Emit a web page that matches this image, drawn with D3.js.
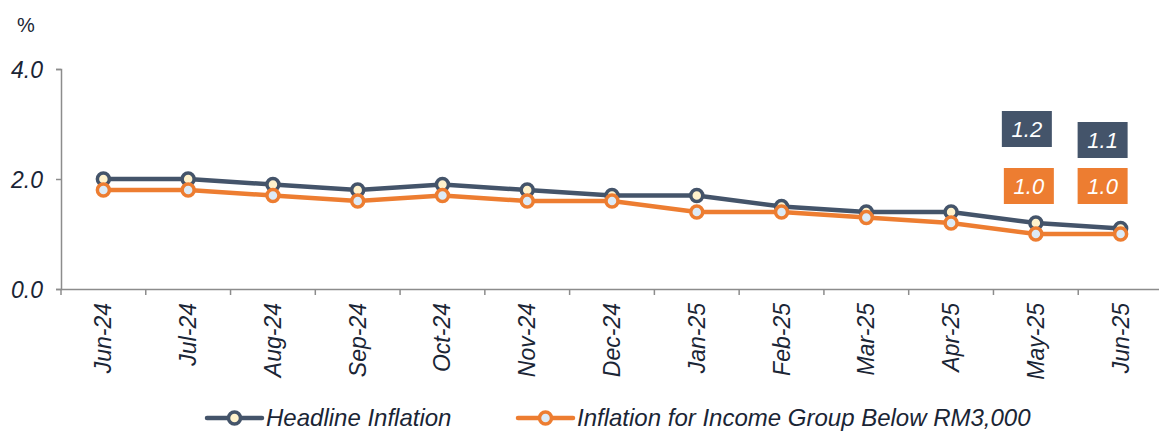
<!DOCTYPE html>
<html><head><meta charset="utf-8">
<script src="https://cdn.jsdelivr.net/npm/d3@7"></script>
<style>body{margin:0;background:#fff;}svg{display:block;font-family:"Liberation Sans",Arial,sans-serif;}</style>
</head><body><svg id="c" width="1159" height="432"></svg>
<script>
const categories = ["Jun-24","Jul-24","Aug-24","Sep-24","Oct-24","Nov-24","Dec-24","Jan-25","Feb-25","Mar-25","Apr-25","May-25","Jun-25"];
const headline = [2.0,2.0,1.9,1.8,1.9,1.8,1.7,1.7,1.5,1.4,1.4,1.2,1.1];
const lowIncome = [1.8,1.8,1.7,1.6,1.7,1.6,1.6,1.4,1.4,1.3,1.2,1.0,1.0];
const yTicks = [0,2,4];
const seriesNames = ["Headline Inflation","Inflation for Income Group Below RM3,000"];
const labelIdx = [11,12];

const svg = d3.select("#c");
const navy = "#44546A", orange = "#ED7D31", txtc = "#1a2535";
const x = d3.scaleBand().domain(categories).range([61,1163]);
const y = d3.scaleLinear().domain([0,4]).range([289,69]);

// y axis
const ya = svg.append("g").attr("transform","translate(61,0)")
  .call(d3.axisLeft(y).tickValues(yTicks).tickFormat(d3.format(".1f")).tickSize(5).tickPadding(13));
ya.select(".domain").attr("stroke","#8c8c8c").attr("stroke-width",1.5);
ya.selectAll(".tick line").attr("stroke","#8c8c8c").attr("stroke-width",1.5);
ya.selectAll("text").attr("font-size",23).attr("font-style","italic").attr("fill",txtc).attr("dy","0.36em");

// x axis
const xa = svg.append("g").attr("transform","translate(0,289)")
  .call(d3.axisBottom(x).tickSize(0).tickSizeOuter(0));
xa.select(".domain").attr("stroke","#8c8c8c").attr("stroke-width",1.5);
xa.selectAll(".tick text").remove();
xa.selectAll(".bt").data(categories.concat(["_end"])).enter().append("line")
  .attr("x1",(d,i)=>61+i*x.step()).attr("x2",(d,i)=>61+i*x.step())
  .attr("y1",0).attr("y2",6).attr("stroke","#8c8c8c").attr("stroke-width",1.5);
xa.selectAll(".xl").data(categories).enter().append("text")
  .attr("transform",d=>`translate(${x(d)+x.bandwidth()/2+8},14) rotate(-90)`)
  .attr("text-anchor","end").attr("font-size",23).attr("font-style","italic").attr("fill",txtc)
  .text(d=>d);

svg.append("text").attr("x",17).attr("y",32).attr("font-size",20).attr("fill",txtc).text("%");

const cx = d => x(d)+x.bandwidth()/2;
const line = d3.line().x((d,i)=>cx(categories[i])).y(d=>y(d));

function drawSeries(data,color,fill){
  svg.append("path").datum(data).attr("d",line).attr("fill","none").attr("stroke",color).attr("stroke-width",4.5);
  svg.selectAll(null).data(data).enter().append("circle")
    .attr("cx",(d,i)=>cx(categories[i])).attr("cy",d=>y(d)).attr("r",6)
    .attr("fill",fill).attr("stroke",color).attr("stroke-width",3.5);
}
drawSeries(headline,navy,"#FFF2CC");
drawSeries(lowIncome,orange,"#DDEBF7");

// data labels
function box(cxp,cyp,txt,color){
  svg.append("rect").attr("x",cxp-25).attr("y",cyp-18).attr("width",50).attr("height",36).attr("fill",color);
  svg.append("text").attr("x",cxp).attr("y",cyp+8).attr("text-anchor","middle").attr("font-size",22)
    .attr("font-style","italic").attr("fill","#fff").text(txt);
}
box(cx(categories[labelIdx[0]])-9,129,headline[labelIdx[0]].toFixed(1),navy);
box(cx(categories[labelIdx[1]])-18,140,headline[labelIdx[1]].toFixed(1),navy);
box(cx(categories[labelIdx[0]])-7,186,lowIncome[labelIdx[0]].toFixed(1),orange);
box(cx(categories[labelIdx[1]])-18,186,lowIncome[labelIdx[1]].toFixed(1),orange);

// legend
const leg = [{x:207,c:navy,f:"#FFF2CC"},{x:518,c:orange,f:"#DDEBF7"}];
leg.forEach((l,i)=>{
  svg.append("line").attr("x1",l.x).attr("x2",l.x+55).attr("y1",418).attr("y2",418).attr("stroke",l.c).attr("stroke-width",4.5).attr("stroke-linecap","round");
  svg.append("circle").attr("cx",l.x+27.5).attr("cy",418).attr("r",6).attr("fill",l.f).attr("stroke",l.c).attr("stroke-width",3.5);
  svg.append("text").attr("x",l.x+59).attr("y",426).attr("font-size",24).attr("font-style","italic").attr("fill",txtc).text(seriesNames[i]);
});
</script></body></html>
